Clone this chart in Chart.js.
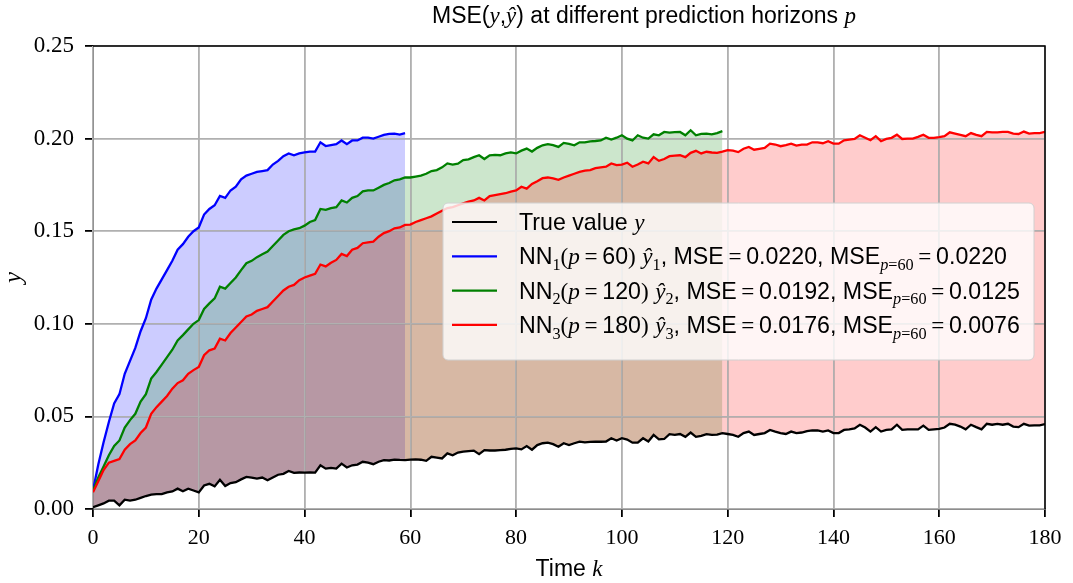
<!DOCTYPE html>
<html lang="en">

<head>
  <meta charset="UTF-8">
  <title>MSE at different prediction horizons</title>
  <style>
    body {
      margin: 0;
      background-color: #fff;
    }

    #wrap {
      width: 1073px;
      height: 583px;
    }
  </style>
  <script src="https://cdn.jsdelivr.net/npm/chart.js"></script>
</head>

<body>
  <div id="wrap"><canvas id="mseChart" width="1073" height="583"></canvas></div>

  <script>
    // time steps k = 0..180
    const steps = Array.from({ length: 181 }, (_, k) => k);

    // true value y
    const trueValue = [
      0.001, 0.002, 0.003, 0.0045, 0.0045, 0.002, 0.005, 0.0045, 0.005, 0.006,
      0.007, 0.0078, 0.008, 0.008, 0.009, 0.0095, 0.011, 0.0096, 0.011, 0.010,
      0.009, 0.0127, 0.0136, 0.0122, 0.0158, 0.0124, 0.014, 0.0145, 0.016, 0.0173,
      0.017, 0.0164, 0.017, 0.0155, 0.017, 0.0185, 0.019, 0.0205, 0.0195, 0.0197,
      0.0196, 0.0197, 0.0196, 0.0236, 0.0218, 0.0222, 0.0218, 0.0245, 0.0224, 0.0236,
      0.024, 0.0255, 0.025, 0.0242, 0.0255, 0.0264, 0.0262, 0.0267, 0.0265, 0.0264,
      0.0267, 0.0268, 0.0266, 0.026, 0.0282, 0.0278, 0.0273, 0.030, 0.029, 0.0305,
      0.031, 0.0313, 0.0315, 0.0296, 0.0318, 0.0316, 0.0316, 0.0318, 0.032, 0.0325,
      0.0327, 0.0322, 0.034, 0.032, 0.0345, 0.0355, 0.0358, 0.035, 0.0336, 0.0355,
      0.0345, 0.0355, 0.0364, 0.036, 0.0362, 0.0364, 0.0363, 0.0364, 0.0382, 0.037,
      0.0382, 0.0375, 0.0358, 0.0358, 0.0382, 0.0364, 0.040, 0.0376, 0.0378, 0.0404,
      0.040, 0.0405, 0.039, 0.0413, 0.039, 0.0395, 0.0404, 0.040, 0.0402, 0.041,
      0.0405, 0.040, 0.039, 0.041, 0.0418, 0.040, 0.0405, 0.041, 0.0427, 0.0418,
      0.041, 0.0405, 0.0418, 0.041, 0.0413, 0.042, 0.0424, 0.0424, 0.0418, 0.0424,
      0.041, 0.041, 0.0427, 0.043, 0.0435, 0.0455, 0.044, 0.0418, 0.0442, 0.0418,
      0.0427, 0.043, 0.0455, 0.0427, 0.043, 0.043, 0.043, 0.045, 0.0427, 0.043,
      0.0433, 0.044, 0.046, 0.0455, 0.0445, 0.043, 0.0455, 0.0442, 0.043, 0.046,
      0.0455, 0.046, 0.0455, 0.046, 0.0445, 0.0442, 0.046, 0.045, 0.0452, 0.0452,
      0.0458
    ];

    // NN1, horizon 60
    const pred1 = [
      0.010, 0.024, 0.036, 0.047, 0.057, 0.062, 0.073, 0.080, 0.087, 0.096,
      0.103, 0.113, 0.119, 0.124, 0.129, 0.134, 0.140, 0.143, 0.147, 0.150,
      0.152, 0.159, 0.162, 0.164, 0.169, 0.168, 0.172, 0.174, 0.178, 0.180,
      0.181, 0.182, 0.1825, 0.183, 0.186, 0.188, 0.1905, 0.192, 0.191, 0.192,
      0.1925, 0.193, 0.193, 0.198, 0.196, 0.1965, 0.197, 0.199, 0.197, 0.199,
      0.199, 0.2005, 0.2005, 0.200, 0.201, 0.202, 0.2025, 0.2027, 0.2022, 0.203
    ];

    // NN2, horizon 120
    const pred2 = [
      0.010, 0.017, 0.023, 0.029, 0.034, 0.037, 0.044, 0.048, 0.0514, 0.058,
      0.062, 0.0704, 0.074, 0.078, 0.082, 0.086, 0.091, 0.0939, 0.097, 0.100,
      0.102, 0.108, 0.111, 0.1137, 0.120, 0.119, 0.122, 0.125, 0.129, 0.1327,
      0.134, 0.136, 0.1375, 0.139, 0.142, 0.145, 0.148, 0.150, 0.151, 0.1516,
      0.153, 0.155, 0.156, 0.162, 0.1615, 0.1625, 0.163, 0.1666, 0.1655, 0.168,
      0.169, 0.1715, 0.172, 0.172, 0.1735, 0.175, 0.176, 0.1775, 0.178, 0.179,
      0.179, 0.1795, 0.180, 0.181, 0.1825, 0.183, 0.1845, 0.1866, 0.186, 0.1865,
      0.1884, 0.1888, 0.190, 0.191, 0.189, 0.191, 0.1912, 0.191, 0.192, 0.1925,
      0.192, 0.1935, 0.1946, 0.193, 0.195, 0.1964, 0.197, 0.1965, 0.1955, 0.1977,
      0.1972, 0.1964, 0.198, 0.198, 0.1985, 0.1987, 0.199, 0.2005, 0.1995, 0.2005,
      0.2018, 0.200, 0.199, 0.2018, 0.2005, 0.200, 0.2023, 0.2018, 0.2036, 0.2032,
      0.2035, 0.2036, 0.2018, 0.2045, 0.2018, 0.2025, 0.2027, 0.2023, 0.203, 0.204
    ];

    // NN3, horizon 180
    const pred3 = [
      0.009, 0.015, 0.021, 0.025, 0.026, 0.027, 0.032, 0.035, 0.037, 0.041,
      0.044, 0.0514, 0.055, 0.058, 0.061, 0.065, 0.068, 0.0695, 0.073, 0.075,
      0.0767, 0.083, 0.0857, 0.0866, 0.092, 0.091, 0.095, 0.098, 0.101, 0.104,
      0.105, 0.107, 0.108, 0.109, 0.112, 0.115, 0.118, 0.120, 0.121, 0.1236,
      0.125, 0.126, 0.127, 0.132, 0.131, 0.133, 0.1345, 0.1377, 0.1366, 0.140,
      0.141, 0.1435, 0.144, 0.1444, 0.147, 0.149, 0.150, 0.1516, 0.152, 0.1534,
      0.1536, 0.155, 0.156, 0.157, 0.158, 0.1595, 0.161, 0.1625, 0.163, 0.164,
      0.165, 0.166, 0.1666, 0.168, 0.1666, 0.169, 0.1695, 0.170, 0.1705, 0.1714,
      0.172, 0.174, 0.173, 0.1755, 0.177, 0.1786, 0.179, 0.1785, 0.1777, 0.179,
      0.180, 0.181, 0.182, 0.1827, 0.183, 0.184, 0.1845, 0.1848, 0.1866, 0.1857,
      0.186, 0.187, 0.1848, 0.186, 0.1875, 0.1866, 0.190, 0.188, 0.189, 0.1905,
      0.1908, 0.191, 0.190, 0.1923, 0.1934, 0.192, 0.1929, 0.1925, 0.1923, 0.193,
      0.1938, 0.1935, 0.1927, 0.1945, 0.1955, 0.194, 0.1945, 0.195, 0.1973, 0.1968,
      0.1959, 0.1965, 0.1973, 0.1962, 0.1968, 0.1968, 0.198, 0.198, 0.1975, 0.1986,
      0.1973, 0.1973, 0.1991, 0.1995, 0.1998, 0.2018, 0.2005, 0.1991, 0.2013, 0.1986,
      0.1998, 0.2004, 0.2021, 0.1998, 0.200, 0.200, 0.2009, 0.2021, 0.2004, 0.2004,
      0.2008, 0.2013, 0.2034, 0.2027, 0.202, 0.2013, 0.203, 0.202, 0.2013, 0.2036,
      0.2034, 0.2034, 0.2036, 0.2036, 0.2027, 0.2025, 0.2038, 0.2027, 0.203, 0.203,
      0.2036
    ];

    const horizons = [60, 120, 180];
    const mseAll = [0.0220, 0.0192, 0.0176];
    const mseP60 = [0.0220, 0.0125, 0.0076];
    const yTicks = [0, 0.05, 0.10, 0.15, 0.20, 0.25];
    const xTicks = [0, 20, 40, 60, 80, 100, 120, 140, 160, 180];

    const SANS = '"Liberation Sans", Arial, sans-serif';
    const SERIF = '"Liberation Serif", "Times New Roman", serif';

    function fontFor(style, size) {
      if (style === 'i') return `italic ${size}px ${SERIF}`;
      if (style === 'r') return `${size}px ${SERIF}`;
      return `${size}px ${SANS}`;
    }

    // runs: [text, style, isSubscript]
    function drawRuns(ctx, runs, x, y, size, align) {
      let total = 0;
      runs.forEach(r => {
        ctx.font = fontFor(r[1], r[2] ? size * 0.7 : size);
        total += ctx.measureText(r[0]).width;
      });
      let cx = align === 'center' ? x - total / 2 : x;
      ctx.textAlign = 'left';
      ctx.textBaseline = 'alphabetic';
      runs.forEach(r => {
        ctx.font = fontFor(r[1], r[2] ? size * 0.7 : size);
        ctx.fillText(r[0], cx, r[2] ? y + size * 0.25 : y);
        cx += ctx.measureText(r[0]).width;
      });
    }

    const EQ = '\u2009=\u2009';
    function predRuns(i) {
      return [
        ['NN', 's'], [String(i + 1), 'r', 1], ['(', 'r'], ['p', 'i'], [EQ, 'r'],
        [String(horizons[i]), 's'], [')', 'r'], [' ', 's'], ['ŷ', 'i'], [String(i + 1), 'r', 1],
        [', MSE', 's'], [EQ, 'r'], [mseAll[i].toFixed(4), 's'], [', MSE', 's'],
        ['p', 'i', 1], ['=60', 'r', 1], [EQ, 'r'], [mseP60[i].toFixed(4), 's']
      ];
    }

    const colors = ['#000000', '#0000ff', '#008000', '#ff0000'];
    const fills = ['rgba(0,0,0,0)', 'rgba(0,0,255,0.2)', 'rgba(0,128,0,0.2)', 'rgba(255,0,0,0.2)'];
    // draw order: blue first, red fill on top, black line last
    const drawOrder = [0, 3, 2, 1];
    const legendRows = [
      [['True value ', 's'], ['y', 'i']],
      predRuns(0), predRuns(1), predRuns(2)
    ];

    // title, axis labels, top/right spines, legend
    const decorations = {
      id: 'decorations',
      beforeDatasetsDraw(chart) {
        // grid again over the fills, under the lines (matplotlib order)
        chart.scales.x.drawGrid(chart.chartArea);
        chart.scales.y.drawGrid(chart.chartArea);
      },
      afterDraw(chart) {
        const ctx = chart.ctx;
        const a = chart.chartArea;
        ctx.save();
        ctx.strokeStyle = '#000';
        ctx.lineWidth = 1.5;
        ctx.beginPath();
        ctx.moveTo(a.left, a.top);
        ctx.lineTo(a.right, a.top);
        ctx.lineTo(a.right, a.bottom);
        ctx.stroke();

        ctx.fillStyle = '#000';
        drawRuns(ctx, [['MSE(', 's'], ['y', 'i'], [',', 's'], ['ŷ', 'i'], [') at different prediction horizons ', 's'], ['p', 'i']], 432, 23, 23, 'left');
        drawRuns(ctx, [['Time ', 's'], ['k', 'i']], (a.left + a.right) / 2, 576, 23, 'center');

        ctx.save();
        ctx.translate(21, (a.top + a.bottom) / 2);
        ctx.rotate(-Math.PI / 2);
        drawRuns(ctx, [['y', 'i']], 0, 0, 25, 'center');
        ctx.restore();

        // legend box
        const bx = 443, by = 203, bw = 591, bh = 157;
        ctx.fillStyle = 'rgba(255,255,255,0.8)';
        ctx.strokeStyle = '#d0d0d0';
        ctx.lineWidth = 1;
        ctx.beginPath();
        ctx.roundRect(bx, by, bw, bh, 5);
        ctx.fill();
        ctx.stroke();
        legendRows.forEach((runs, i) => {
          const cy = 222 + i * 34.3;
          ctx.strokeStyle = colors[i];
          ctx.lineWidth = 2.2;
          ctx.beginPath();
          ctx.moveTo(452, cy);
          ctx.lineTo(497, cy);
          ctx.stroke();
          ctx.fillStyle = '#000';
          drawRuns(ctx, runs, 519, cy + 8, 23.2, 'left');
        });
        ctx.restore();
      }
    };

    const series = [trueValue, pred1, pred2, pred3];
    const ctx = document.getElementById('mseChart').getContext('2d');
    new Chart(ctx, {
      type: 'line',
      data: {
        labels: steps,
        datasets: series.map((vals, i) => ({
          label: i === 0 ? 'True value y' : 'NN' + i + ' (p=' + horizons[i - 1] + ')',
          data: vals,
          order: drawOrder[i],
          borderColor: colors[i],
          backgroundColor: fills[i],
          borderWidth: 2.3,
          pointRadius: 0,
          tension: 0,
          fill: i === 0 ? false : { target: 0 }
        }))
      },
      options: {
        responsive: false,
        animation: false,
        layout: { padding: { top: 46, right: 28, left: 0, bottom: 0 } },
        plugins: {
          legend: { display: false },
          title: { display: false },
          tooltip: { enabled: false },
          filler: { drawTime: 'beforeDatasetsDraw' }
        },
        scales: {
          x: {
            type: 'linear',
            min: 0,
            max: 180,
            afterBuildTicks: s => { s.ticks = xTicks.map(v => ({ value: v })); },
            afterFit: s => { s.height = 74; },
            ticks: {
              color: '#000',
              padding: 8,
              maxRotation: 0,
              font: { family: SERIF, size: 22 },
              callback: v => String(v)
            },
            grid: { color: '#b0b0b0', lineWidth: 1.6, tickLength: 8, tickColor: '#000', tickWidth: 1.5 },
            border: { color: '#000', width: 1.5 }
          },
          y: {
            min: 0,
            max: 0.25,
            afterBuildTicks: s => { s.ticks = yTicks.map(v => ({ value: v })); },
            afterFit: s => { s.width = 93; },
            ticks: {
              color: '#000',
              padding: 11,
              font: { family: SERIF, size: 23 },
              callback: v => v.toFixed(2)
            },
            grid: { color: '#b0b0b0', lineWidth: 1.6, tickLength: 8, tickColor: '#000', tickWidth: 1.5 },
            border: { color: '#000', width: 1.5 }
          }
        }
      },
      plugins: [decorations]
    });
  </script>
</body>

</html>
